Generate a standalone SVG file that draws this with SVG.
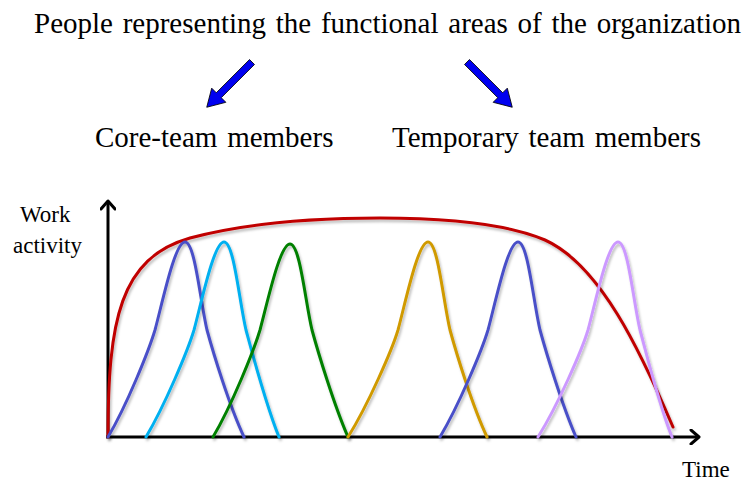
<svg xmlns="http://www.w3.org/2000/svg" width="745" height="482" viewBox="0 0 745 482">
<defs>
<filter id="sh" x="-10%" y="-10%" width="130%" height="140%">
<feDropShadow dx="1.5" dy="2.5" stdDeviation="1.2" flood-color="#000" flood-opacity="0.25"/>
</filter>
<marker id="chev" viewBox="0 0 16 16" refX="13" refY="8" markerWidth="16" markerHeight="16" markerUnits="userSpaceOnUse" orient="auto">
<path d="M5,1 L13,8 L5,15" fill="none" stroke="#000" stroke-width="3" stroke-linecap="round" stroke-linejoin="round"/>
</marker>
</defs>
<style>
text{font-family:"Liberation Serif","Times New Roman",serif;fill:#000}
.t1{font-size:29px;word-spacing:2.5px}
.t3{font-size:23px}
.c{fill:none;stroke-width:3;stroke-linecap:round;stroke-linejoin:round;filter:url(#sh)}
.lg{stroke-width:4;filter:url(#sh)}
.ax{stroke:#000;stroke-width:3;fill:none;marker-end:url(#chev)}
.blk{fill:#0000F0;stroke:#000;stroke-width:0.8}
</style>
<g id="title"><text class="t1" x="34" y="33">People representing the functional areas of the organization</text></g>
<g id="arrows">
<polygon class="blk" transform="translate(252,62) rotate(135)" points="0,-3.5 47,-3.5 47,-10 64,0 47,10 47,3.5 0,3.5"/>
<polygon class="blk" transform="translate(467,62) rotate(45)" points="0,-3.5 47,-3.5 47,-10 64,0 47,10 47,3.5 0,3.5"/>
</g>
<g id="core-team"><text class="t1" x="95" y="147">Core-team members</text>
<line class="lg" x1="177" y1="167" x2="245" y2="167" stroke="#C00000"/></g>
<g id="temporary-team"><text class="t1" x="392" y="147">Temporary team members</text>
<line class="lg" x1="405" y1="175" x2="440" y2="175" stroke="#4A50C8"/>
<line class="lg" x1="472" y1="175" x2="506" y2="175" stroke="#00B0F0"/>
<line class="lg" x1="537" y1="175" x2="572" y2="175" stroke="#008000"/>
<line class="lg" x1="600" y1="175" x2="634" y2="175" stroke="#D09A00"/>
<line class="lg" x1="666" y1="175" x2="701" y2="175" stroke="#CC99FF"/></g>
<g id="axes">
<line class="ax" x1="108" y1="438" x2="108" y2="201"/>
<line class="ax" x1="106" y1="437" x2="699" y2="437"/>
<text class="t3" x="20" y="222">Work</text>
<text class="t3" x="13" y="253">activity</text>
<text class="t3" x="682" y="477">Time</text>
</g>
<g id="curves">
<path class="c" stroke="#C00000" d="M108,437 C108,320 120,258 190,238 C250,222 320,218 380,218 C450,218 510,225 545,240 C600,265 640,350 673,427"/>
<path class="c" stroke="#4A50C8" d="M108,437 C127,405 149,350 155,330 C163,300 175,242 185,242 C195,242 200,300 207,330 C213,352 229,405 244,437"/>
<path class="c" stroke="#00B0F0" d="M146,437 C165,405 188,350 194,330 C202,300 214,242 224,242 C234,242 239,300 246,330 C252,352 266,405 279,437"/>
<path class="c" stroke="#008000" d="M213,437 C232,405 254,350 260,330 C268,300 280,244 290,244 C300,244 305,300 312,330 C318,352 334,405 348,437"/>
<path class="c" stroke="#D09A00" d="M348,437 C368,405 392,350 398,330 C406,300 418,242 428,242 C438,242 443,300 450,330 C456,352 472,405 487,437"/>
<path class="c" stroke="#4A50C8" d="M440,437 C459,405 482,350 488,330 C496,300 508,242 518,242 C528,242 533,300 540,330 C546,352 562,405 576,437"/>
<path class="c" stroke="#CC99FF" d="M538,437 C558,405 582,350 588,330 C596,300 608,242 618,242 C628,242 633,300 640,330 C646,352 659,405 672,437"/>
</g>
</svg>
